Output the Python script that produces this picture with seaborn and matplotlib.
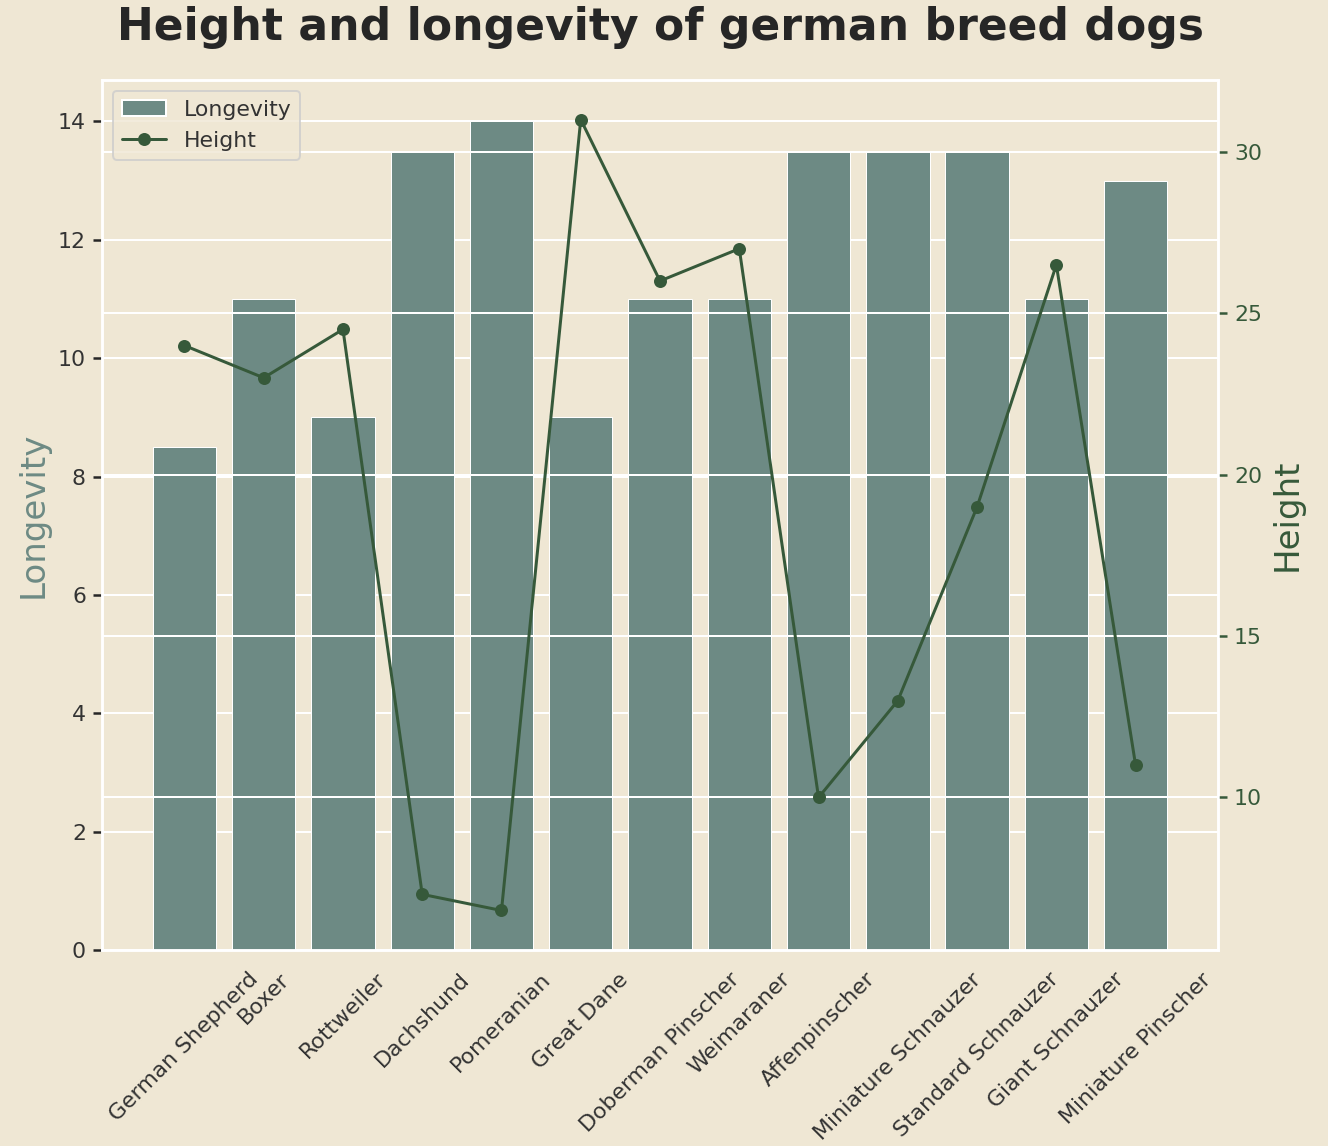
import numpy as np
import matplotlib
matplotlib.use("Agg")
import matplotlib.pyplot as plt
from matplotlib.patches import Patch
from matplotlib.lines import Line2D
import seaborn as sns

# data
breeds = ['German Shepherd', 'Boxer', 'Rottweiler', 'Dachshund', 'Pomeranian',
          'Great Dane', 'Doberman Pinscher', 'Weimaraner', 'Affenpinscher',
          'Miniature Schnauzer', 'Standard Schnauzer', 'Giant Schnauzer',
          'Miniature Pinscher']
longevity = [8.5, 11, 9, 13.5, 14, 9, 11, 11, 13.5, 13.5, 13.5, 11, 13]
height = [24, 23, 24.5, 7, 6.5, 31, 26, 27, 10, 13, 19, 26.5, 11]

bg = '#efe7d4'
bar_color = '#6d8a84'
line_color = '#36593a'

sns.set_theme(style='darkgrid', context='notebook',
              rc={'axes.facecolor': bg, 'figure.facecolor': bg,
                  'ytick.left': True, 'ytick.right': True,
                  'ytick.major.size': 4.5})

fig = plt.figure(figsize=(1328 / 144, 1146 / 144), dpi=144)
ax = fig.add_axes([0.0768, 0.1710, 0.8404, 0.7592])

x = np.arange(len(breeds))
sns.barplot(x=breeds, y=longevity, color=bar_color, saturation=1, width=0.8,
            edgecolor='white', linewidth=0.5, ax=ax)
ax.set_xlim(-1.04, len(breeds) - 1 + 1.04)
ax.set_xticks(x)
ax.set_xticklabels(breeds, rotation=45, ha='center')
ax.set_xlabel('')
ax.set_ylabel('Longevity', fontsize=17, color=bar_color)
ax.tick_params(axis='y', right=False, labelcolor='#333333')
ax.tick_params(axis='x', labelcolor='#333333')

ax2 = ax.twinx()
sns.lineplot(x=x, y=height, color=line_color, marker='o', markersize=6.5,
             markeredgewidth=0, linewidth=1.5, ax=ax2)
ax2.set_ylabel('Height', fontsize=17, color=line_color)
ax2.tick_params(axis='y', colors=line_color, left=False)
ax2.grid(True, color='white')

handles = [Patch(facecolor=bar_color, edgecolor='white', label='Longevity'),
           Line2D([0], [0], color=line_color, marker='o', markersize=6.5,
                  markeredgewidth=0, linewidth=1.5, label='Height')]
leg = ax2.legend(handles=handles, loc='upper left')
for t in leg.get_texts():
    t.set_color('#333333')

ax.set_title('Height and longevity of german breed dogs', fontsize=22,
             fontweight='bold', pad=20)

fig.savefig('out.png', dpi=144, facecolor=bg)
